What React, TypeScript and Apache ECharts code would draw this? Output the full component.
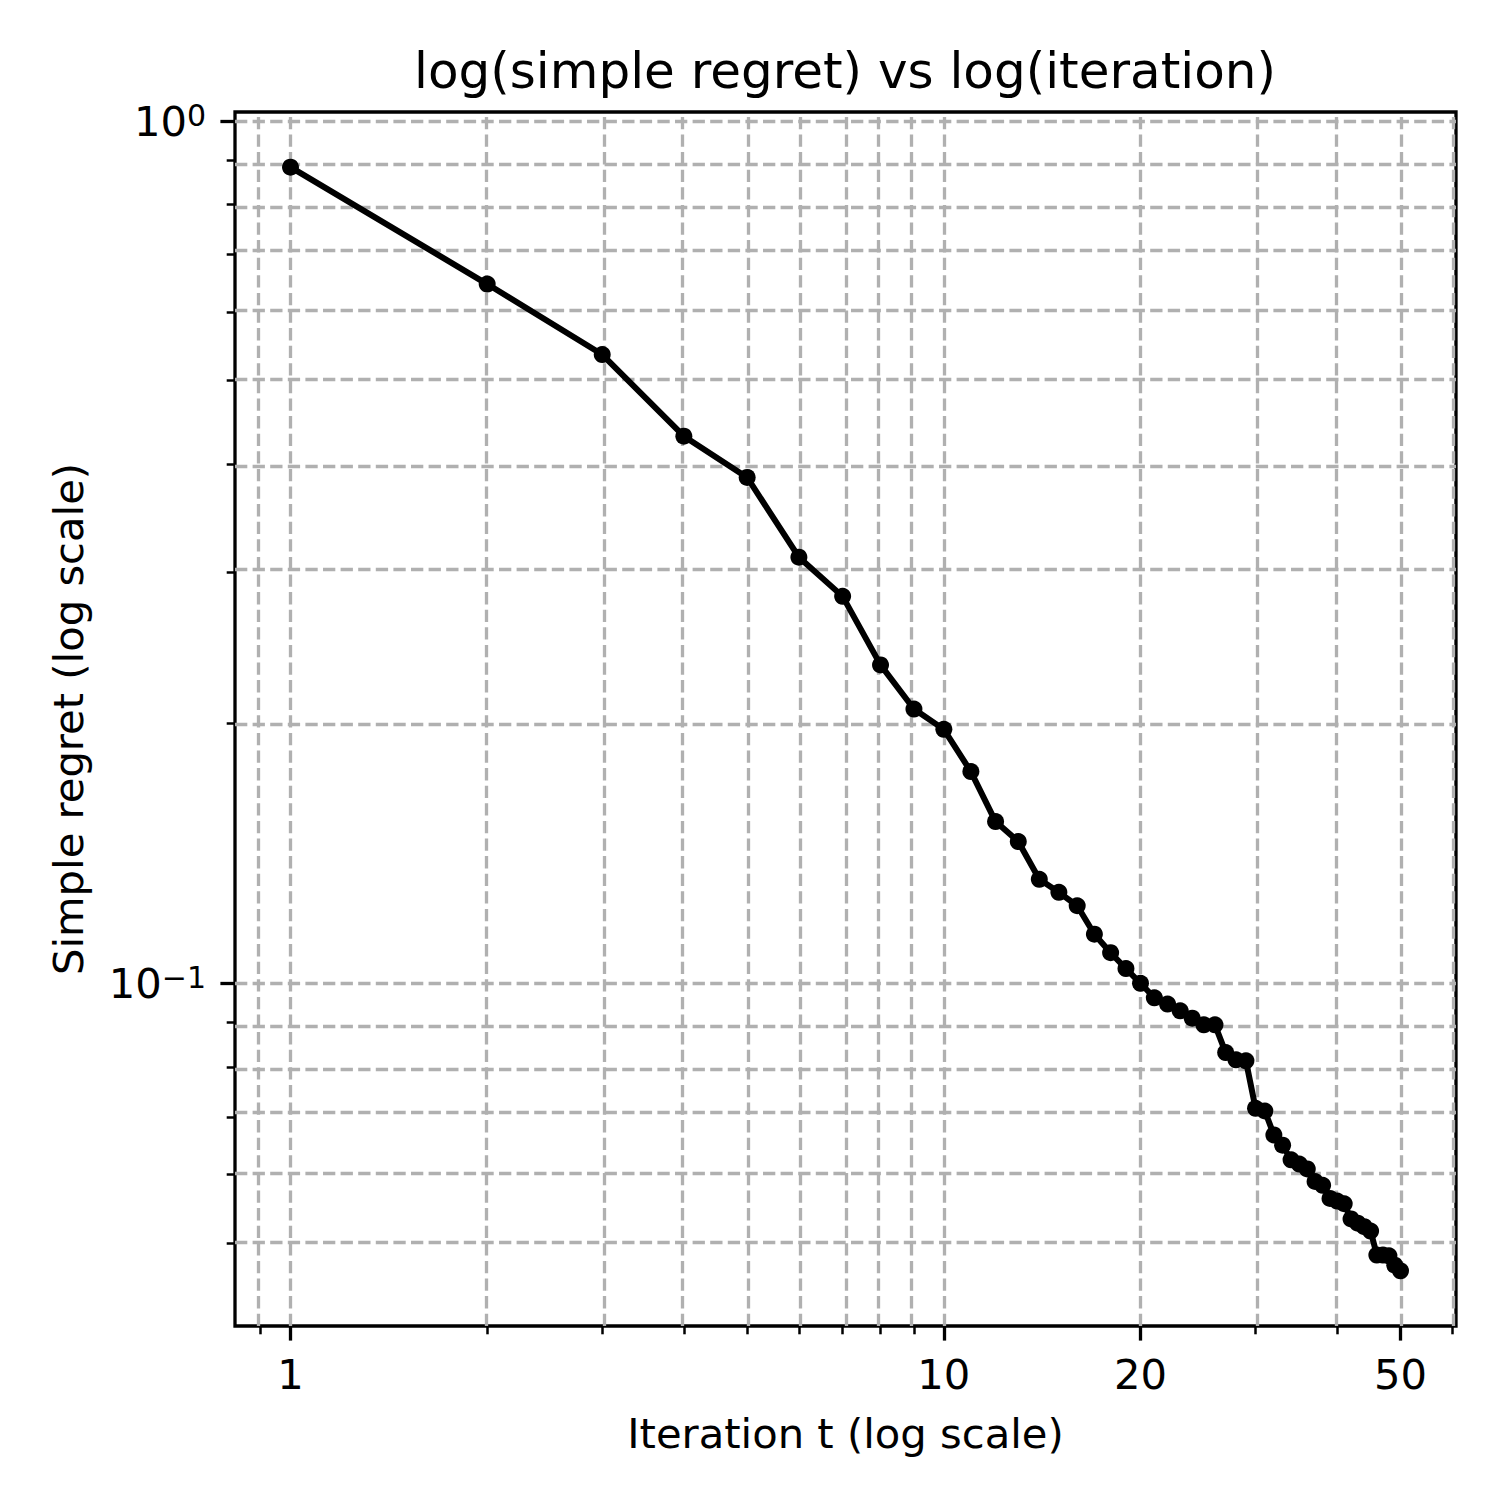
import React, { useEffect, useRef } from "react";
import * as echarts from "echarts";

const ITERATIONS = [
  1, 2, 3, 4, 5, 6, 7, 8, 9, 10,
  11, 12, 13, 14, 15, 16, 17, 18, 19, 20,
  21, 22, 23, 24, 25, 26, 27, 28, 29, 30,
  31, 32, 33, 34, 35, 36, 37, 38, 39, 40,
  41, 42, 43, 44, 45, 46, 47, 48, 49, 50,
];

const REGRET = [
  0.884, 0.647, 0.536, 0.431, 0.386, 0.312, 0.281, 0.234, 0.208, 0.197,
  0.176, 0.154, 0.146, 0.132, 0.1275, 0.123, 0.114, 0.1085, 0.104, 0.1,
  0.0962, 0.0946, 0.0929, 0.0911, 0.0895, 0.0895, 0.0831, 0.0815, 0.0813, 0.0716,
  0.0711, 0.0667, 0.0649, 0.0624, 0.0617, 0.0609, 0.0589, 0.0583, 0.0563, 0.0559,
  0.0555, 0.0533, 0.0527, 0.0522, 0.0516, 0.0484, 0.0484, 0.0483, 0.0471, 0.0464,
];

const X_MAJOR_TICKS = [1, 10, 20, 50];
const X_MINOR_TICKS = [0.9, 2, 3, 4, 5, 6, 7, 8, 9, 30, 40, 60];
const Y_MAJOR_TICKS = [1, 0.1];
const Y_MINOR_TICKS = [0.9, 0.8, 0.7, 0.6, 0.5, 0.4, 0.3, 0.2, 0.09, 0.08, 0.07, 0.06, 0.05];

const TITLE = "log(simple regret) vs log(iteration)";
const X_NAME = "Iteration t (log scale)";
const Y_NAME = "Simple regret (log scale)";

const FONT = "DejaVu Sans";

export default function App() {
  const ref = useRef<HTMLDivElement>(null);

  useEffect(() => {
    const chart = echarts.init(ref.current as HTMLDivElement, null, { renderer: "svg" });
    const lg = (v: number) => Math.log10(v);

    const lx = ITERATIONS.map(lg);
    const ly = REGRET.map(lg);
    const xLo = Math.min(...lx), xHi = Math.max(...lx);
    const yLo = Math.min(...ly), yHi = Math.max(...ly);
    const xMin = xLo - 0.05 * (xHi - xLo);
    const xMax = xHi + 0.05 * (xHi - xLo);
    const yMin = yLo - 0.05 * (yHi - yLo);
    const yMax = yHi + 0.05 * (yHi - yLo);

    const inRange = (v: number, lo: number, hi: number) => v >= lo - 1e-9 && v <= hi + 1e-9;

    const xGrid = [...X_MAJOR_TICKS, ...X_MINOR_TICKS].map(lg).filter((v) => inRange(v, xMin, xMax));
    const yGrid = [...Y_MAJOR_TICKS, ...Y_MINOR_TICKS].map(lg).filter((v) => inRange(v, yMin, yMax));

    const gridLineStyle = { color: "#b0b0b0", width: 3.3, type: [12.3, 5.3] as any, opacity: 1 };

    const xLabel = (v: number) => String(Math.round(Math.pow(10, v)));
    const yLabel = (v: number) => {
      const e = Math.round(v);
      const s = e < 0 ? "\u2212" + String(-e) : String(e);
      return "{b|10}{s|" + s + "}";
    };

    const hiddenLine = { show: false, onZero: false };

    const option: any = {
      animation: false,
      backgroundColor: "#ffffff",
      textStyle: { fontFamily: FONT },
      title: {
        text: TITLE,
        left: 845,
        top: 46,
        textAlign: "center",
        padding: 0,
        textStyle: { fontFamily: FONT, fontSize: 50, fontWeight: "normal", color: "#000" },
      },
      grid: {
        left: 235,
        top: 112,
        width: 1221,
        height: 1214,
        show: true,
        borderColor: "#000",
        borderWidth: 3.3,
        backgroundColor: "transparent",
        containLabel: false,
      },
      xAxis: [
        {
          type: "value",
          min: xMin,
          max: xMax,
          position: "bottom",
          name: X_NAME,
          nameLocation: "middle",
          nameGap: 86,
          nameTextStyle: { fontFamily: FONT, fontSize: 41.7, color: "#000" },
          axisLine: hiddenLine,
          axisTick: {
            show: true,
            inside: false,
            length: 14.6,
            lineStyle: { color: "#000", width: 3.3 },
            customValues: X_MAJOR_TICKS.map(lg),
          },
          axisLabel: {
            show: true,
            margin: 27,
            fontFamily: FONT,
            fontSize: 41.7,
            color: "#000",
            customValues: X_MAJOR_TICKS.map(lg),
            formatter: xLabel,
          },
          splitLine: { show: false },
        },
        {
          type: "value",
          min: xMin,
          max: xMax,
          position: "bottom",
          offset: 0,
          axisLine: hiddenLine,
          axisTick: {
            show: true,
            inside: false,
            length: 8.3,
            lineStyle: { color: "#000", width: 2.5 },
            customValues: X_MINOR_TICKS.map(lg).filter((v) => inRange(v, xMin, xMax)),
          },
          axisLabel: { show: false },
          splitLine: { show: false },
        },
      ],
      yAxis: [
        {
          type: "value",
          min: yMin,
          max: yMax,
          position: "left",
          name: Y_NAME,
          nameLocation: "middle",
          nameGap: 146,
          nameTextStyle: { fontFamily: FONT, fontSize: 41.7, color: "#000" },
          axisLine: hiddenLine,
          axisTick: {
            show: true,
            inside: false,
            length: 14.6,
            lineStyle: { color: "#000", width: 3.3 },
            customValues: Y_MAJOR_TICKS.map(lg),
          },
          axisLabel: {
            show: true,
            margin: 29,
            color: "#000",
            customValues: Y_MAJOR_TICKS.map(lg),
            formatter: yLabel,
            rich: {
              b: { fontFamily: FONT, fontSize: 41.7, lineHeight: 42, color: "#000" },
              s: { fontFamily: FONT, fontSize: 30, lineHeight: 28, verticalAlign: "top", color: "#000" },
            },
          },
          splitLine: { show: false },
        },
        {
          type: "value",
          min: yMin,
          max: yMax,
          position: "left",
          offset: 0,
          axisLine: hiddenLine,
          axisTick: {
            show: true,
            inside: false,
            length: 8.3,
            lineStyle: { color: "#000", width: 2.5 },
            customValues: Y_MINOR_TICKS.map(lg).filter((v) => inRange(v, yMin, yMax)),
          },
          axisLabel: { show: false },
          splitLine: { show: false },
        },
      ],
      series: [
        {
          name: "grid",
          type: "line",
          xAxisIndex: 0,
          yAxisIndex: 0,
          data: [],
          z: 1,
          silent: true,
          markLine: {
            silent: true,
            symbol: ["none", "none"],
            label: { show: false },
            lineStyle: gridLineStyle,
            emphasis: { disabled: true },
            animation: false,
            data: [
              ...xGrid.map((v) => ({ xAxis: v })),
              ...yGrid.map((v) => ({ yAxis: v })),
            ],
          },
        },
        {
          name: "regret",
          type: "line",
          xAxisIndex: 0,
          yAxisIndex: 0,
          z: 5,
          data: lx.map((x, i) => [x, ly[i]]),
          symbol: "circle",
          symbolSize: 17,
          showSymbol: true,
          lineStyle: { color: "#000", width: 6 },
          itemStyle: { color: "#000", borderWidth: 0 },
          emphasis: { disabled: true },
        },
      ],
    };

    chart.setOption(option);
    return () => chart.dispose();
  }, []);

  return (
    <div
      ref={ref}
      style={{ position: "absolute", left: 0, top: 0, width: 1500, height: 1500 }}
    />
  );
}
